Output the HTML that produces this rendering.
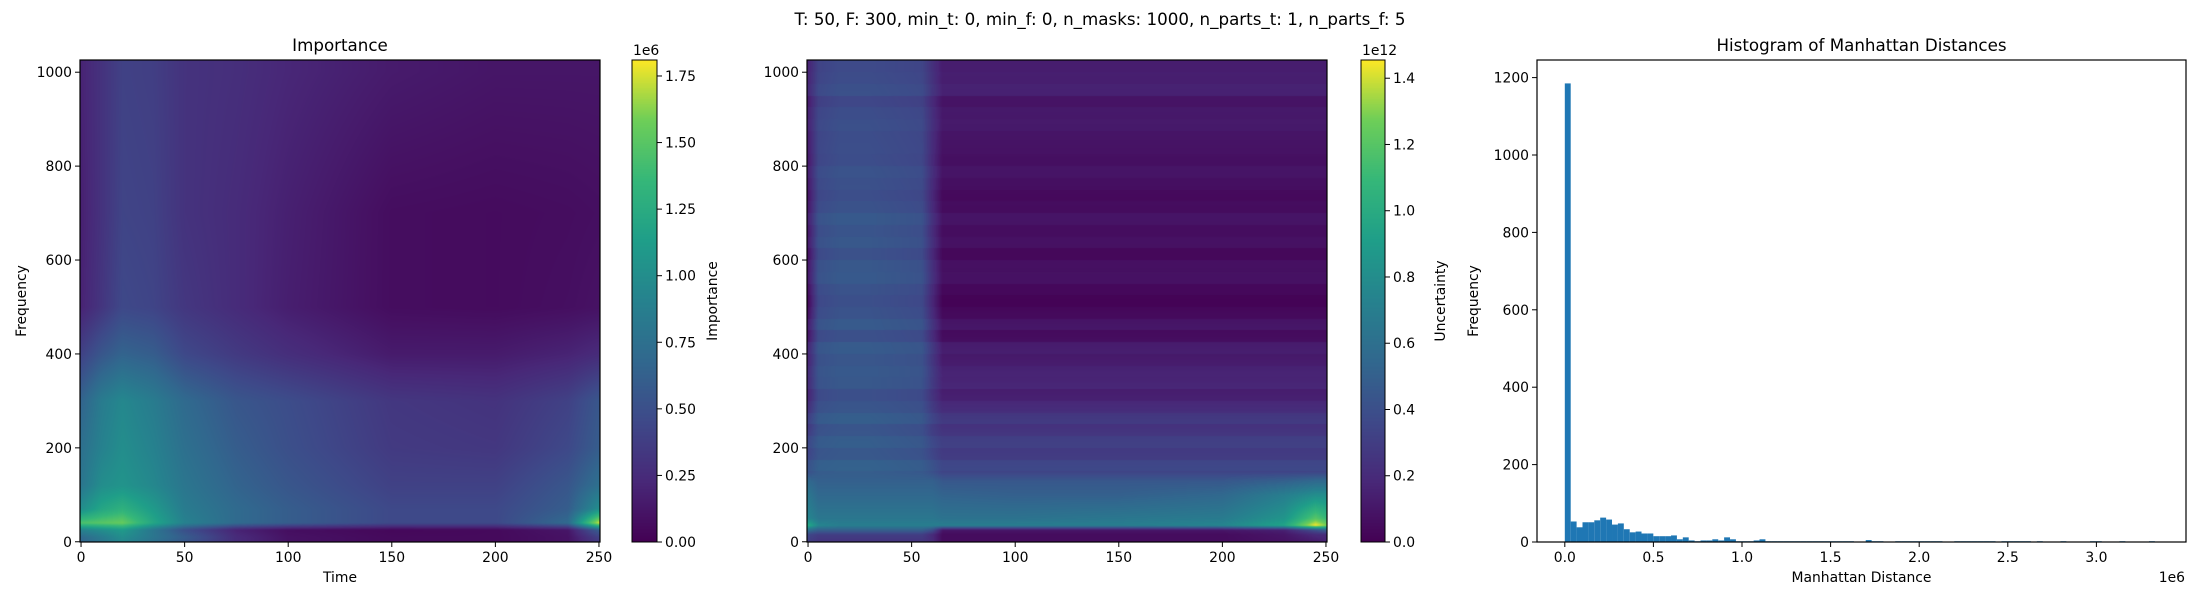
<!DOCTYPE html>
<html><head><meta charset="utf-8">
<style>
html,body{margin:0;padding:0;background:#fff;width:2200px;height:600px;overflow:hidden;}
#wrap{position:relative;width:2200px;height:600px;font-family:"DejaVu Sans","Liberation Sans",sans-serif;}
canvas{position:absolute;}
svg{position:absolute;left:0;top:0;}
</style></head>
<body>
<div id="wrap">
<canvas id="hm1" width="520" height="482" style="left:80px;top:60px"></canvas>
<canvas id="cb1" width="25" height="482" style="left:632px;top:60px"></canvas>
<canvas id="hm2" width="520" height="482" style="left:807px;top:60px"></canvas>
<canvas id="cb2" width="24" height="482" style="left:1361px;top:60px"></canvas>
<svg id="svg" width="2200" height="600"></svg>
</div>
<script>
// ---- Importance heatmap data (units 1e6) ----
const impTimes = [0,10,20,35,50,75,100,150,200,235,250];
const impFreqs = [0,10,25,40,70,120,200,300,400,500,700,1000];
const impValues = [
 [0.65,0.8,0.95,0.75,0.55,0.25,0.1,0.05,0.05,0.1,0.35],
 [0.7,0.85,1.0,0.8,0.6,0.25,0.1,0.05,0.05,0.1,0.4],
 [0.9,1.0,1.1,0.8,0.5,0.2,0.08,0.04,0.05,0.12,0.6],
 [1.45,1.5,1.55,1.2,0.9,0.7,0.6,0.45,0.45,0.7,1.75],
 [1.0,1.2,1.3,1.1,0.85,0.7,0.6,0.45,0.45,0.6,1.0],
 [0.8,1.0,1.05,0.95,0.8,0.65,0.55,0.4,0.4,0.55,0.75],
 [0.75,0.9,1.0,0.9,0.75,0.6,0.5,0.35,0.33,0.45,0.6],
 [0.65,0.85,0.95,0.85,0.7,0.55,0.48,0.33,0.3,0.4,0.55],
 [0.4,0.55,0.65,0.6,0.45,0.35,0.27,0.15,0.15,0.2,0.25],
 [0.2,0.32,0.45,0.42,0.33,0.25,0.17,0.07,0.06,0.08,0.1],
 [0.18,0.3,0.42,0.4,0.3,0.25,0.18,0.07,0.06,0.07,0.08],
 [0.2,0.3,0.4,0.38,0.3,0.27,0.22,0.15,0.12,0.12,0.12]
];
const impVmax = 1.81;
const impTicks = [0,0.25,0.5,0.75,1.0,1.25,1.5,1.75];
const impTickLabels = ["0.00","0.25","0.50","0.75","1.00","1.25","1.50","1.75"];

// ---- Uncertainty heatmap data (units 1e12) ----
const uncTimes = [0,5,15,30,55,60,65,100,150,200,230,245,250];
const uncFreqs = [0,15,25,35,50,100,130,150,230,300,400,500,700,1000];
const uncValues = [
 [0.3,0.25,0.25,0.25,0.25,0.2,0.05,0.05,0.05,0.05,0.08,0.12,0.15],
 [0.35,0.3,0.3,0.3,0.3,0.2,0.05,0.05,0.05,0.05,0.1,0.2,0.2],
 [0.6,0.5,0.5,0.5,0.5,0.4,0.1,0.1,0.1,0.1,0.15,0.4,0.5],
 [1.0,0.75,0.7,0.7,0.7,0.7,0.7,0.7,0.7,0.75,0.95,1.45,1.3],
 [0.75,0.65,0.65,0.65,0.65,0.65,0.62,0.62,0.65,0.68,0.85,1.2,1.1],
 [0.65,0.55,0.55,0.55,0.55,0.55,0.52,0.5,0.5,0.55,0.7,0.8,0.8],
 [0.55,0.5,0.5,0.5,0.5,0.5,0.45,0.45,0.45,0.45,0.5,0.55,0.55],
 [0.4,0.47,0.48,0.48,0.45,0.4,0.33,0.33,0.33,0.33,0.33,0.33,0.33],
 [0.32,0.44,0.46,0.46,0.42,0.33,0.28,0.28,0.28,0.28,0.28,0.28,0.28],
 [0.2,0.4,0.43,0.43,0.4,0.28,0.18,0.18,0.18,0.18,0.18,0.18,0.18],
 [0.15,0.4,0.43,0.43,0.4,0.25,0.1,0.1,0.1,0.1,0.1,0.1,0.1],
 [0.05,0.38,0.42,0.42,0.38,0.2,0.03,0.03,0.03,0.03,0.03,0.03,0.03],
 [0.1,0.38,0.42,0.42,0.38,0.2,0.05,0.05,0.05,0.05,0.05,0.05,0.05],
 [0.15,0.32,0.36,0.36,0.33,0.22,0.12,0.12,0.12,0.12,0.12,0.12,0.12]
];
// additive horizontal stripe offsets, one per 25 frequency units (0..1000)
const uncStripes = [0,0,0,0,0,0,0.03,-0.02,0.02,-0.02,0.04,0.0,-0.03,0.02,0.03,0.01,0.04,-0.02,0.04,0.0,
 -0.02,0.0,0.04,0.03,-0.01,0.03,0.01,0.04,0.0,-0.02,0.0,0.02,-0.01,0.0,0.0,0.02,0.01,-0.02,0.04,0.02,0.01];
const uncVmax = 1.455;
const uncTicks = [0,0.2,0.4,0.6,0.8,1.0,1.2,1.4];
const uncTickLabels = ["0.0","0.2","0.4","0.6","0.8","1.0","1.2","1.4"];

// ---- Histogram data ----
const histBinStart = 0;      // 1e6 units
const histBinWidth = 0.0333; // 1e6 units
const histCounts = [1185,53,38,51,51,56,63,58,45,48,33,25,27,22,22,15,15,15,17,7,
 12,4,2,4,4,7,4,12,7,2, 2,2,4,7,2,2,2,2,2,2, 2,2,2,2,2,2,2,2,2,0,
 0,5,2,2,0,0,2,2,2,2, 2,2,2,2,0,0,2,2,2,2, 2,2,2,0,2,2,2,2,2,0,
 2,0,0,0,2,0,0,0,0,2, 2,0,0,0,2,0,0,0,0,2];
const histXTicks = [0,0.5,1.0,1.5,2.0,2.5,3.0];
const histXTickLabels = ["0.0","0.5","1.0","1.5","2.0","2.5","3.0"];
const histYTicks = [0,200,400,600,800,1000,1200];
const heatXTicks = [0,50,100,150,200,250];
const heatYTicks = [0,200,400,600,800,1000];

// ---- viridis ----
const VS=[[68,1,84],[72,40,120],[62,73,137],[49,104,142],[38,130,142],[31,158,137],[53,183,121],[110,206,88],[253,231,37]];
function viridis(t){t=Math.max(0,Math.min(1,t));const p=t*8,i=Math.min(7,Math.floor(p)),f=p-i;
 return VS[i].map((c,k)=>Math.round(c+(VS[i+1][k]-c)*f));}
function interpIdx(arr,v){ if(v<=arr[0])return [0,0,0]; const n=arr.length;
 if(v>=arr[n-1])return [n-1,n-1,0];
 for(let i=0;i<n-1;i++){if(v<=arr[i+1]){return [i,i+1,(v-arr[i])/(arr[i+1]-arr[i])];}} }
function drawHeat(id,times,freqs,vals,vmax,stripes){
 const c=document.getElementById(id),ctx=c.getContext('2d'),W=c.width,H=c.height;
 const img=ctx.createImageData(W,H);
 for(let y=0;y<H;y++){const f=1026-(y+0.5)/H*1026.5;const [f0,f1,ff]=interpIdx(freqs,f);
  const s=stripes?stripes[Math.max(0,Math.min(stripes.length-1,Math.floor(f/25)))]:0;
  for(let x=0;x<W;x++){const t=-0.5+(x+0.5)/W*251;const [t0,t1,tf]=interpIdx(times,t);
   let v=(vals[f0][t0]*(1-tf)+vals[f0][t1]*tf)*(1-ff)+(vals[f1][t0]*(1-tf)+vals[f1][t1]*tf)*ff;
   v+=s;
   const col=viridis(v/vmax);const o=(y*W+x)*4;img.data[o]=col[0];img.data[o+1]=col[1];img.data[o+2]=col[2];img.data[o+3]=255;}}
 ctx.putImageData(img,0,0);}
function drawCb(id){const c=document.getElementById(id),ctx=c.getContext('2d');
 for(let y=0;y<c.height;y++){const col=viridis(1-(y+0.5)/c.height);ctx.fillStyle=`rgb(${col})`;ctx.fillRect(0,y,c.width,1);}}
drawHeat('hm1',impTimes,impFreqs,impValues,impVmax,null);
drawHeat('hm2',uncTimes,uncFreqs,uncValues,uncVmax,uncStripes);
drawCb('cb1');drawCb('cb2');

// ---- SVG overlay ----
const svg=document.getElementById('svg');const NS='http://www.w3.org/2000/svg';
function el(tag,attrs,text){const e=document.createElementNS(NS,tag);for(const k in attrs)e.setAttribute(k,attrs[k]);if(text!==undefined)e.textContent=text;svg.appendChild(e);return e;}
const TOP=60,BOT=542;
function txt(x,y,s,size,anchor,name,rot){const a={x:x,y:y,'font-size':size,'text-anchor':anchor||'middle',fill:'#000','font-family':'DejaVu Sans, Liberation Sans, sans-serif'};
 if(rot)a.transform=`rotate(-90 ${x} ${y})`;const e=el('text',a,s);
 
 
 return e;}

txt(1100,25,"T: 50, F: 300, min_t: 0, min_f: 0, n_masks: 1000, n_parts_t: 1, n_parts_f: 5",16.7,'middle','figure-title');

function heatAxes(L,R,prefix,title){
 const xs=t=>L+(t+0.5)/251*(R-L), ys=f=>BOT-(f+0.5)/1026.5*(BOT-TOP);
 heatXTicks.forEach(t=>{const x=xs(t);const l=el('line',{x1:x,x2:x,y1:BOT,y2:BOT+5,stroke:'#000','stroke-width':1});
  
  
  txt(x,BOT+20,String(t),13.9,'middle',prefix+'-x-tick-label');});
 heatYTicks.forEach(f=>{const y=ys(f);const l=el('line',{x1:L-5,x2:L,y1:y,y2:y,stroke:'#000','stroke-width':1});
  
  
  txt(L-8,y+5,String(f),13.9,'end',prefix+'-y-tick-label');});
 const r=el('rect',{x:L,y:TOP,width:R-L,height:BOT-TOP,fill:'none',stroke:'#000','stroke-width':1.2});
 
 
 if(title)txt((L+R)/2,51,title,16.7,'middle',prefix+'-title');
}
heatAxes(80,600,'importance','Importance');
txt(340,582,'Time',13.9,'middle','importance-x-axis-title');
txt(26,301,'Frequency',13.9,'middle','importance-y-axis-title',true);
heatAxes(807,1327,'uncertainty','');

function cbAxes(L,R,ticks,labels,vmax,prefix,label,expo){
 const ys=v=>BOT-v/vmax*(BOT-TOP);
 ticks.forEach((v,i)=>{const y=ys(v);const l=el('line',{x1:R,x2:R+5,y1:y,y2:y,stroke:'#000','stroke-width':1});
  
  
  txt(R+8,y+5,labels[i],13.9,'start',prefix+'-tick-label');});
 const r=el('rect',{x:L,y:TOP,width:R-L,height:BOT-TOP,fill:'none',stroke:'#000','stroke-width':1});
 
 
 txt(L+1,55,expo,13.9,'start',prefix+'-offset-label');
 txt(R+60,301,label,13.9,'middle',prefix+'-label',true);
}
cbAxes(632,657,impTicks,impTickLabels,impVmax,'importance-colorbar','Importance','1e6');
cbAxes(1361,1385,uncTicks,uncTickLabels,uncVmax,'uncertainty-colorbar','Uncertainty','1e12');

// histogram
const HL=1537,HR=2186;
const hx=v=>1564.8+v*177.2, hy=c=>BOT-c*0.387;
histCounts.forEach((c,i)=>{if(c<=0)return;const x0=hx(histBinStart+i*histBinWidth),x1=hx(histBinStart+(i+1)*histBinWidth);
 const b=el('rect',{x:x0,y:hy(c),width:x1-x0,height:BOT-hy(c),fill:'#1f77b4'});
 
 });
histXTicks.forEach((v,i)=>{const x=hx(v);const l=el('line',{x1:x,x2:x,y1:BOT,y2:BOT+5,stroke:'#000','stroke-width':1});
 
 
 txt(x,BOT+20,histXTickLabels[i],13.9,'middle','histogram-x-tick-label');});
histYTicks.forEach(v=>{const y=hy(v);const l=el('line',{x1:HL-5,x2:HL,y1:y,y2:y,stroke:'#000','stroke-width':1});
 
 
 txt(HL-8,y+5,String(v),13.9,'end','histogram-y-tick-label');});
const hf=el('rect',{x:HL,y:TOP,width:HR-HL,height:BOT-TOP,fill:'none',stroke:'#000','stroke-width':1.2});


txt((HL+HR)/2,51,'Histogram of Manhattan Distances',16.7,'middle','histogram-title');
txt((HL+HR)/2,582,'Manhattan Distance',13.9,'middle','histogram-x-axis-title');
txt(2185,582,'1e6',13.9,'end','histogram-x-offset-label');
txt(1478,301,'Frequency',13.9,'middle','histogram-y-axis-title',true);
</script>
</body></html>
